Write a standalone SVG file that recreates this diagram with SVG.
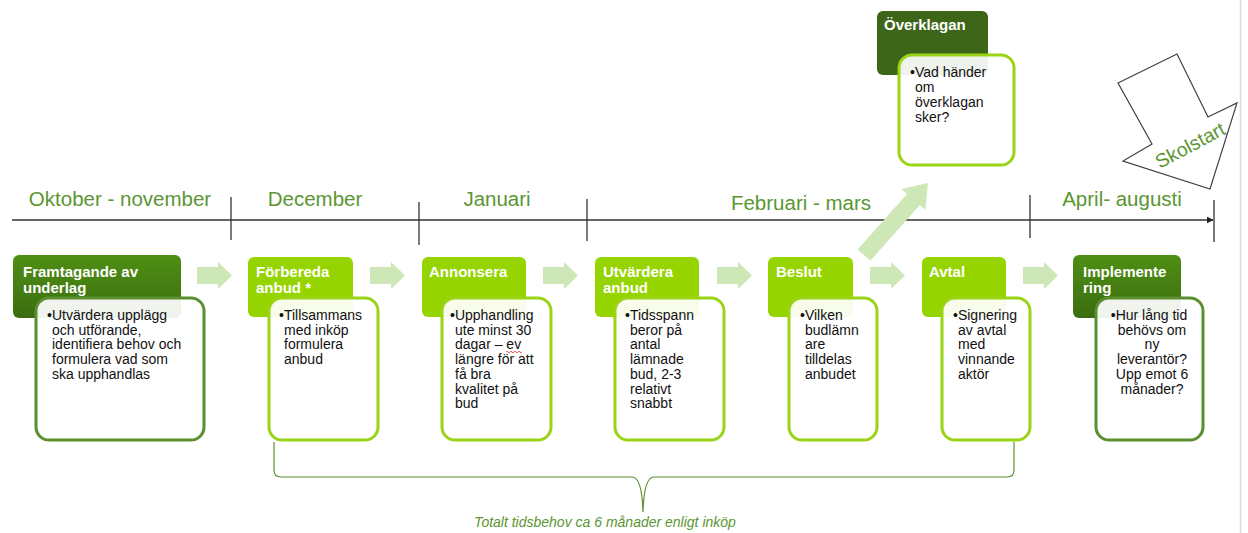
<svg xmlns="http://www.w3.org/2000/svg" width="1248" height="533" viewBox="0 0 1248 533">
<defs>
<style>
.tl{font-family:"Liberation Sans",Arial,sans-serif;font-size:20.5px;fill:#5a9632;text-anchor:middle}
.ht{font-family:"Liberation Sans",Arial,sans-serif;font-size:15px;font-weight:bold;fill:#fff}
.bt{font-family:"Liberation Sans",Arial,sans-serif;font-size:14px;fill:#111}
.hl{fill:#96d400}
.hd{fill:url(#gd)}
.bl{fill:#fff;fill-opacity:0.92;stroke:#9ad415;stroke-width:3}
.bd{fill:#fff;fill-opacity:0.92;stroke:#5b8f30;stroke-width:3}
.sa{fill:#cde8b6}
.tick{stroke:#333;stroke-width:1.3}
</style>
<linearGradient id="gd" x1="0" y1="0" x2="0" y2="1">
<stop offset="0" stop-color="#4f8f14"/>
<stop offset="1" stop-color="#3b6d10"/>
</linearGradient>
<marker id="ah" viewBox="0 0 10 10" refX="9" refY="5" markerWidth="7" markerHeight="7" orient="auto" markerUnits="userSpaceOnUse">
<path d="M0,0 L10,5 L0,10 z" fill="#222"/>
</marker>
</defs>
<rect width="1248" height="533" fill="#fff"/>
<line x1="1240.5" y1="0" x2="1240.5" y2="533" stroke="#d9d9d9" stroke-width="1.5"/>

<g id="timeline">
<line x1="12" y1="220" x2="1213" y2="220" stroke="#333" stroke-width="1.3" marker-end="url(#ah)"/>
<line class="tick" x1="231" y1="197" x2="231" y2="240"/>
<line class="tick" x1="419" y1="202" x2="419" y2="245"/>
<line class="tick" x1="587" y1="199" x2="587" y2="241"/>
<line class="tick" x1="1030" y1="195" x2="1030" y2="238"/>
<line class="tick" x1="1214" y1="200" x2="1214" y2="242"/>
<text class="tl" x="120" y="206">Oktober - november</text>
<text class="tl" x="315" y="206">December</text>
<text class="tl" x="497" y="206">Januari</text>
<text class="tl" x="801" y="210">Februari - mars</text>
<text class="tl" x="1122" y="206">April- augusti</text>
</g>

<g id="connectors">
<polygon class="sa" points="197,267 218,267 218,262 232,275.5 218,289 218,284 197,284"/>
<polygon class="sa" points="370,267 391,267 391,262 405,275.5 391,289 391,284 370,284"/>
<polygon class="sa" points="543,267 564,267 564,262 578,275.5 564,289 564,284 543,284"/>
<polygon class="sa" points="717,267 738,267 738,262 752,275.5 738,289 738,284 717,284"/>
<polygon class="sa" points="870,267 891,267 891,262 905,275.5 891,289 891,284 870,284"/>
<polygon class="sa" points="1023,267 1044,267 1044,262 1058,275.5 1044,289 1044,284 1023,284"/>
<polygon class="sa" points="857.6,249.4 907,193.9 901.4,188.9 928,183 925.4,210.1 919.8,205.1 870.4,260.6"/>
<path d="M274,442 L274,470 Q274,477 281,477 L632,477 Q642,477 643,512 Q644,477 654,477 L1007,477 Q1014,477 1014,470 L1014,442" fill="none" stroke="#5b8f30" stroke-width="1.2"/>
<text x="605" y="527" font-family="'Liberation Sans',Arial,sans-serif" font-size="14" font-style="italic" fill="#5a9632" text-anchor="middle">Totalt tidsbehov ca 6 månader enligt inköp</text>
</g>

<g id="skolstart">
<polygon points="1118,83 1177,54 1208,117 1237,103 1210,189 1123,161 1152,144" fill="#fff" stroke="#404040" stroke-width="1.2" stroke-linejoin="miter"/>
<text x="1190" y="152" font-family="'Liberation Sans',Arial,sans-serif" font-size="19.5" fill="#5a9632" text-anchor="middle" transform="rotate(-28 1190 145)">Skolstart</text>
</g>

<g id="n1">
<rect class="hd" x="13" y="255" width="168" height="63" rx="6"/>
<text class="ht" x="23" y="277">Framtagande av</text>
<text class="ht" x="23" y="293">underlag</text>
<rect class="bd" x="36" y="298" width="168" height="142" rx="13"/>
<text class="bt"><tspan x="47" y="320">•Utvärdera upplägg</tspan><tspan x="52" y="334.7">och utförande,</tspan><tspan x="52" y="349.4">identifiera behov och</tspan><tspan x="52" y="364.1">formulera vad som</tspan><tspan x="52" y="378.8">ska upphandlas</tspan></text>
</g>

<g id="n2">
<rect class="hl" x="248" y="257" width="105" height="60" rx="6"/>
<text class="ht" x="256" y="277">Förbereda</text>
<text class="ht" x="256" y="293">anbud *</text>
<rect class="bl" x="269" y="298" width="109" height="142" rx="13"/>
<text class="bt"><tspan x="279" y="320">•Tillsammans</tspan><tspan x="284" y="334.7">med inköp</tspan><tspan x="284" y="349.4">formulera</tspan><tspan x="284" y="364.1">anbud</tspan></text>
</g>

<g id="n3">
<rect class="hl" x="422" y="257" width="104" height="60" rx="6"/>
<text class="ht" x="429" y="277">Annonsera</text>
<rect class="bl" x="442" y="298" width="109" height="142" rx="13"/>
<text class="bt"><tspan x="450" y="320">•Upphandling</tspan><tspan x="455" y="334.7">ute minst 30</tspan><tspan x="455" y="349.4">dagar – ev</tspan><tspan x="455" y="364.1">längre för att</tspan><tspan x="455" y="378.8">få bra</tspan><tspan x="455" y="393.5">kvalitet på</tspan><tspan x="455" y="408.2">bud</tspan></text>
<path d="M506,352 q1,-1.5 2,0 t2,0 t2,0 t2,0 t2,0 t2,0 t2,0 t2,0" fill="none" stroke="#e03030" stroke-width="0.8"/>
</g>

<g id="n4">
<rect class="hl" x="595" y="257" width="104" height="60" rx="6"/>
<text class="ht" x="603" y="277">Utvärdera</text>
<text class="ht" x="603" y="293">anbud</text>
<rect class="bl" x="615" y="298" width="109" height="142" rx="13"/>
<text class="bt"><tspan x="625" y="320">•Tidsspann</tspan><tspan x="630" y="334.7">beror på</tspan><tspan x="630" y="349.4">antal</tspan><tspan x="630" y="364.1">lämnade</tspan><tspan x="630" y="378.8">bud, 2-3</tspan><tspan x="630" y="393.5">relativt</tspan><tspan x="630" y="408.2">snabbt</tspan></text>
</g>

<g id="n5">
<rect class="hl" x="768" y="257" width="85" height="60" rx="6"/>
<text class="ht" x="776" y="277">Beslut</text>
<rect class="bl" x="789" y="298" width="88" height="142" rx="13"/>
<text class="bt"><tspan x="800" y="320">•Vilken</tspan><tspan x="805" y="334.7">budlämn</tspan><tspan x="805" y="349.4">are</tspan><tspan x="805" y="364.1">tilldelas</tspan><tspan x="805" y="378.8">anbudet</tspan></text>
</g>

<g id="n6">
<rect class="hl" x="922" y="257" width="84" height="60" rx="6"/>
<text class="ht" x="929" y="277">Avtal</text>
<rect class="bl" x="942" y="298" width="88" height="142" rx="13"/>
<text class="bt"><tspan x="953" y="320">•Signering</tspan><tspan x="958" y="334.7">av avtal</tspan><tspan x="958" y="349.4">med</tspan><tspan x="958" y="364.1">vinnande</tspan><tspan x="958" y="378.8">aktör</tspan></text>
</g>

<g id="n7">
<rect class="hd" x="1073" y="255" width="108" height="63" rx="6"/>
<text class="ht" x="1083" y="277">Implemente</text>
<text class="ht" x="1083" y="293">ring</text>
<rect class="bd" x="1096" y="298" width="107" height="142" rx="13"/>
<text class="bt" text-anchor="middle"><tspan x="1149" y="320">•Hur lång tid</tspan><tspan x="1152" y="334.7">behövs om</tspan><tspan x="1152" y="349.4">ny</tspan><tspan x="1152" y="364.1">leverantör?</tspan><tspan x="1152" y="378.8">Upp emot 6</tspan><tspan x="1152" y="393.5">månader?</tspan></text>
</g>

<g id="n8">
<rect x="877" y="11" width="111" height="64" rx="6" fill="#3d6619"/>
<text class="ht" x="884" y="30">Överklagan</text>
<rect class="bl" x="899" y="55" width="115" height="110" rx="13"/>
<text class="bt"><tspan x="910" y="77">•Vad händer</tspan><tspan x="915" y="92">om</tspan><tspan x="915" y="107">överklagan</tspan><tspan x="915" y="122">sker?</tspan></text>
</g>
</svg>
